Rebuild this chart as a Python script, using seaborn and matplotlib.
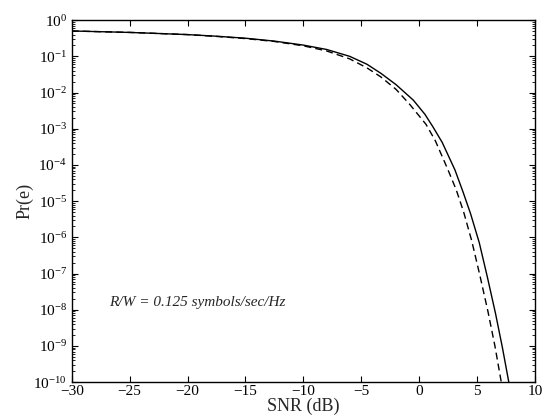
import numpy as np
import pandas as pd
import matplotlib
matplotlib.use("Agg")
import matplotlib.pyplot as plt
import matplotlib.ticker as mticker
import seaborn as sns

# ---- data (SNR in dB, log10 of Pr(e)) ----
snr_solid = [-30, -27.5, -25, -22.5, -20, -17.5, -15, -12.5, -10, -8, -6, -4.5, -3.3, -2,
             -0.5, 0.5, 1.2, 2, 3.1, 3.8, 4.45, 5.2, 5.9, 6.6, 7.2, 7.75]
log_pe_solid = [-0.30, -0.32, -0.34, -0.37, -0.40, -0.445, -0.50, -0.58, -0.69, -0.81, -1.00,
                -1.22, -1.47, -1.78, -2.21, -2.60, -2.95, -3.38, -4.14, -4.75, -5.35, -6.15,
                -7.10, -8.10, -9.05, -10.0]

snr_dashed = [-30, -27.5, -25, -22.5, -20, -17.5, -15, -12.5, -10, -8, -6, -4.5, -3.3, -2,
              -0.8, 0.6, 1.4, 2.45, 3.2, 3.85, 4.55, 5.25, 5.95, 6.55, 7.1]
log_pe_dashed = [-0.30, -0.32, -0.34, -0.37, -0.40, -0.45, -0.51, -0.59, -0.71, -0.85, -1.07,
                 -1.32, -1.57, -1.91, -2.33, -2.88, -3.33, -4.10, -4.68, -5.30, -6.10, -7.05,
                 -8.05, -9.00, -10.0]

x_ticks = [-30, -25, -20, -15, -10, -5, 0, 5, 10]
annotation = "R/W = 0.125 symbols/sec/Hz"

sns.set_style("ticks")
plt.rcParams['font.family'] = ['Liberation Serif', 'DejaVu Serif']
plt.rcParams['mathtext.fontset'] = 'custom'
plt.rcParams['mathtext.rm'] = 'Liberation Serif'
plt.rcParams['mathtext.it'] = 'Liberation Serif:italic'

fig = plt.figure(figsize=(5.48, 4.19), dpi=100)
ax = fig.add_axes([0.131, 0.088, 0.845, 0.864])

df_s = pd.DataFrame({"snr": snr_solid, "pe": np.power(10.0, log_pe_solid)})
df_d = pd.DataFrame({"snr": snr_dashed, "pe": np.power(10.0, log_pe_dashed)})
sns.lineplot(data=df_s, x="snr", y="pe", ax=ax, color="black", linewidth=1.0, sort=False)
sns.lineplot(data=df_d, x="snr", y="pe", ax=ax, color="black", linewidth=1.0,
             linestyle=(0, (5, 3)), sort=False)

ax.set_yscale("log")
ax.set_xlim(-30, 10)
ax.set_ylim(1e-10, 1)
ax.set_xticks(x_ticks)
ax.yaxis.set_major_locator(mticker.LogLocator(base=10, numticks=12))
ax.yaxis.set_minor_locator(mticker.LogLocator(base=10, subs=np.arange(2, 10), numticks=12))
ax.yaxis.set_minor_formatter(mticker.NullFormatter())

ax.tick_params(axis="both", which="both", direction="in", top=True, right=True,
               labelsize=11, colors="black")
ax.tick_params(axis="x", pad=2)
ax.tick_params(which="major", length=4, width=0.8)
ax.tick_params(which="minor", length=2, width=0.6)
for s in ax.spines.values():
    s.set_visible(True)
    s.set_color("black")
    s.set_linewidth(1.0)

ax.set_xlabel("SNR (dB)", fontsize=13, labelpad=0)
ax.set_ylabel("Pr(e)", fontsize=13, labelpad=0)
ax.text(-26.8, 1.6e-8, annotation, fontsize=11, style="italic", ha="left", va="center")

fig.savefig("out.png", dpi=100, facecolor="white")
